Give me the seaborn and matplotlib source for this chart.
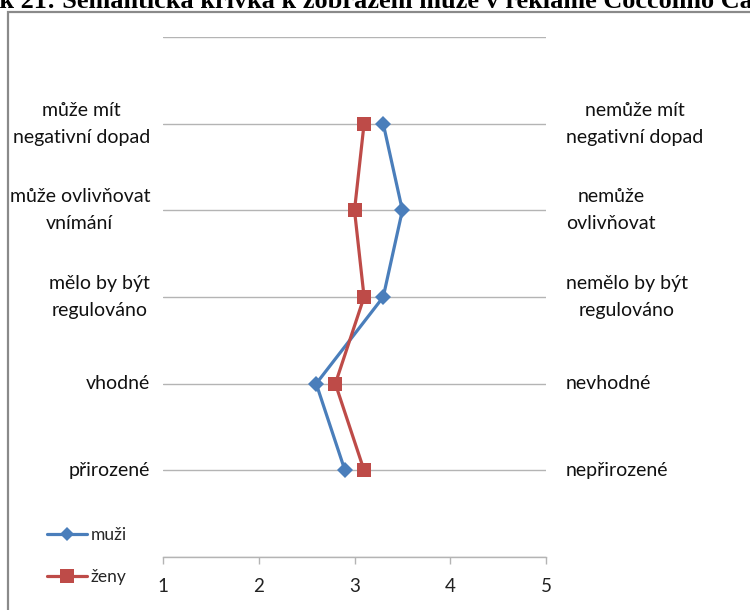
import matplotlib
matplotlib.use("Agg")
import matplotlib.pyplot as plt
import seaborn as sns
import pandas as pd
from matplotlib.patches import Rectangle
from matplotlib.lines import Line2D

# ---- data ----
title = "Obrázek 21: Sémantická křivka k zobrazení muže v reklamě Coccolino Care"
left_labels = ["může mít\nnegativní dopad", "může ovlivňovat\nvnímání",
               "mělo by být\nregulováno", "vhodné", "přirozené"]
right_labels = ["nemůže mít\nnegativní dopad", "nemůže\novlivňovat",
                "nemělo by být\nregulováno", "nevhodné", "nepřirozené"]
positions = [5, 4, 3, 2, 1]
muzi = [3.3, 3.5, 3.3, 2.6, 2.9]
zeny = [3.1, 3.0, 3.1, 2.8, 3.1]
series_names = ["muži", "ženy"]
x_ticks = [1, 2, 3, 4, 5]

# ---- style ----
blue = "#4A7EBB"
red = "#BE4B48"
grid_c = "#b4b4b4"
lab_fs = 14.0
title_fs = 18.9

sns.set_theme(style="white")
plt.rcParams['font.family'] = ['Lato', 'DejaVu Sans']

W, H = 750, 610
fig = plt.figure(figsize=(7.5, 6.1), dpi=100)
fig.patch.set_facecolor("white")

# outer chart frame (extends beyond the image on right/bottom)
fig.patches.append(Rectangle((8 / W, -0.2), 2.0, (1 - 12 / H) + 0.2,
                             transform=fig.transFigure, fill=False,
                             edgecolor="#8a8a8a", lw=1.6, zorder=0))

ax = fig.add_axes([163 / W, 1 - 557 / H, (546 - 163) / W, (557 - 37) / H])

df = pd.DataFrame({
    "hodnota": muzi + zeny,
    "pozice": positions * 2,
    "pohlaví": [series_names[0]] * len(muzi) + [series_names[1]] * len(zeny),
})
sns.lineplot(data=df, x="hodnota", y="pozice", hue="pohlaví", style="pohlaví",
             markers={series_names[0]: "D", series_names[1]: "s"},
             dashes=False, palette={series_names[0]: blue, series_names[1]: red},
             sort=False, estimator=None, lw=2.3, markeredgewidth=0,
             ax=ax, legend=False)
for ln, ms in zip(ax.lines, [8.3, 10.5]):
    ln.set_markersize(ms)

ax.set_xlim(1, 5)
ax.set_ylim(0, 6)
ax.set_yticks(range(0, 7))
ax.set_yticklabels([])
ax.tick_params(axis="y", length=0)
ax.grid(axis="y", color=grid_c, lw=1.0)
ax.grid(axis="x", visible=False)
ax.set_xticks(x_ticks)
ax.set_xticklabels([str(t) for t in x_ticks])
ax.tick_params(axis="x", direction="out", length=5, width=1, color=grid_c,
               labelsize=13.5, pad=10, labelcolor="#222222", bottom=True)
for s in ["top", "left", "right"]:
    ax.spines[s].set_visible(False)
ax.spines["bottom"].set_color(grid_c)
ax.spines["bottom"].set_linewidth(1.0)
ax.set_xlabel("")
ax.set_ylabel("")

for pos, lab in zip(positions, left_labels):
    ax.annotate(lab, xy=(0, pos), xycoords=("axes fraction", "data"),
                xytext=(-13, 0), textcoords="offset pixels",
                ha="right", va="center", multialignment="center",
                fontsize=lab_fs, color="#111111", linespacing=1.7)
for pos, lab in zip(positions, right_labels):
    ax.annotate(lab, xy=(1, pos), xycoords=("axes fraction", "data"),
                xytext=(20, 0), textcoords="offset pixels",
                ha="left", va="center", multialignment="center",
                fontsize=lab_fs, color="#111111", linespacing=1.7)

handles = [Line2D([], [], color=blue, lw=2.3, marker="D", markersize=7, markeredgewidth=0),
           Line2D([], [], color=red, lw=2.3, marker="s", markersize=9.5, markeredgewidth=0)]
fig.legend(handles=handles, labels=series_names, loc="upper left",
           bbox_to_anchor=(47 / W, 1 - 527 / H), frameon=False,
           fontsize=12.5, handlelength=2.3, handletextpad=0.2,
           labelspacing=1.5, borderpad=0, borderaxespad=0)

# title, cut off at the top edge like the source
t = fig.text(0, 1 - 8 / H, title, ha="left", va="baseline",
             fontsize=title_fs, fontweight="bold", family="Liberation Serif", color="black")
fig.canvas.draw()
r = fig.canvas.get_renderer()
probe = fig.text(0, 0, "Obráze", fontsize=title_fs, fontweight="bold", family="Liberation Serif")
w = probe.get_window_extent(r).width
probe.remove()
t.set_x(-(w + 1) / W)

fig.savefig("out.png", dpi=100)
